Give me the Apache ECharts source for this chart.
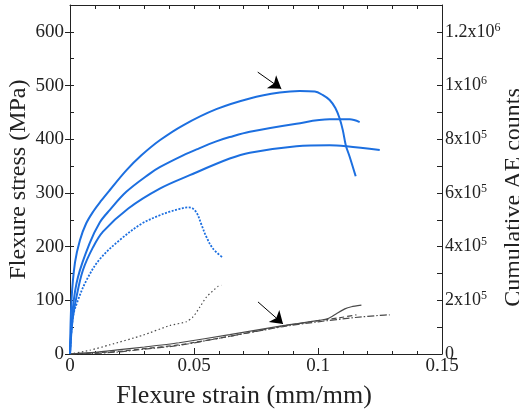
<!DOCTYPE html>
<html>
<head>
<meta charset="utf-8">
<script src="https://cdn.jsdelivr.net/npm/echarts@6/dist/echarts.min.js"></script>
<style>
  html, body { margin: 0; padding: 0; background: #fff; }
  #chart { width: 519px; height: 414px; }
</style>
</head>
<body>
<div id="chart"></div>
<script>
// Flexure stress-strain curves (MPa) for four specimens: [strain, stress]
const stressA = [[0,0],[0.0006,100],[0.002,170],[0.004,212],[0.0065,243],[0.0093,265],[0.0125,285],[0.016,305],[0.0227,342],[0.0288,370],[0.0362,398],[0.0456,426],[0.059,456],[0.0725,476],[0.0846,487],[0.0926,490],[0.0987,489],[0.102,482],[0.1047,473],[0.107,458],[0.1087,439],[0.110,417],[0.1112,389],[0.1128,367],[0.1152,331]];
const stressB = [[0,0],[0.0012,87],[0.0032,143],[0.0079,206],[0.012,245],[0.016,268],[0.0227,302],[0.0322,336],[0.0362,348],[0.0456,370],[0.051,381],[0.059,396],[0.0644,404],[0.0725,414],[0.0913,429],[0.1047,437],[0.1128,437],[0.1168,432]];
const stressC = [[0,0],[0.001,62],[0.0026,106],[0.0052,156],[0.0093,199],[0.0133,228],[0.0235,271],[0.0362,308],[0.0483,333],[0.0644,364],[0.0725,375],[0.0913,387],[0.1047,389],[0.1115,387],[0.1249,380]];
const stressD = [[0,0],[0.0012,69],[0.0032,100],[0.0066,137],[0.0119,176],[0.020,212],[0.029,243],[0.036,258],[0.0402,265],[0.044,270],[0.0476,273],[0.0495,271],[0.0512,262],[0.053,241],[0.055,218],[0.0577,196],[0.0615,180]];

// Cumulative acoustic-emission counts: [strain, counts]
const aeSolid = [[0,0],[0.01,6000],[0.02,16000],[0.03,26000],[0.044,42000],[0.0644,72000],[0.0859,106000],[0.1,124000],[0.104,132000],[0.1074,150000],[0.1108,168000],[0.1135,176000],[0.1175,182000]];
const aeDashed = [[0,0],[0.01,4000],[0.02,10000],[0.03,20000],[0.044,34000],[0.0644,66000],[0.0859,104000],[0.1,124000],[0.108,134000],[0.1155,146000]];
const aeDashDot = [[0,0],[0.01,2000],[0.02,8000],[0.03,18000],[0.044,32000],[0.0644,66000],[0.0859,102000],[0.1,120000],[0.115,136000],[0.125,144000],[0.1289,146000]];
const aeDotted = [[0,0],[0.008,14000],[0.016,34000],[0.0294,70000],[0.0402,106000],[0.0469,120000],[0.0496,138000],[0.0523,174000],[0.055,212000],[0.0597,252000],[0.061,256000]];

// Annotation arrows: [tail, head] in strain / stress units
const arrowUpper = [[0.0757, 525], [0.0852, 494]];
const arrowLower = [[0.0758, 97], [0.0859, 56]];

const FONT = 'Liberation Serif';
const BLUE = '#1c6fe0';
const GRAY = '#4a4a4a';
const INK = '#222';

const chart = echarts.init(document.getElementById('chart'), null, { renderer: 'canvas' });

function blueLine(data, type, width) {
  return {
    type: 'line', xAxisIndex: 0, yAxisIndex: 0, data: data,
    showSymbol: false, smooth: 0.35,
    lineStyle: { color: BLUE, width: width, type: type },
    z: 3
  };
}
function grayLine(data, type) {
  return {
    type: 'line', xAxisIndex: 0, yAxisIndex: 2, data: data,
    showSymbol: false, smooth: 0.2,
    lineStyle: { color: GRAY, width: 1.2, type: type },
    z: 2
  };
}

function supLabel(v) {
  if (v === 0) return '{b|0}';
  const k = Math.round(v / 1e5);
  if (k % 2) return '';
  const e = Math.floor(Math.log10(v) + 1e-9);
  const m = +(v / Math.pow(10, e)).toFixed(2);
  return '{b|' + m + 'x10}{s|' + e + '}';
}

const option = {
  animation: false,
  backgroundColor: '#fff',
  textStyle: { fontFamily: FONT },
  grid: { left: 70, right: 77, top: 5, bottom: 60, containLabel: false, outerBoundsMode: 'none' },
  xAxis: [
    {
      type: 'value', position: 'bottom', min: 0, max: 0.15, interval: 0.05,
      name: 'Flexure strain (mm/mm)', nameLocation: 'middle', nameGap: 29,
      nameTextStyle: { fontFamily: FONT, fontSize: 26, color: INK, padding: [0, 24, 0, 0] },
      axisLine: { show: true, onZero: false, lineStyle: { color: INK, width: 1 } },
      axisTick: { show: true, inside: true, length: 6, lineStyle: { color: INK } },
      minorTick: { show: true, splitNumber: 5, length: 3, lineStyle: { color: INK } },
      axisLabel: { fontFamily: FONT, fontSize: 19, color: INK, margin: 3 },
      splitLine: { show: false }, minorSplitLine: { show: false }
    },
    {
      type: 'value', position: 'top', min: 0, max: 0.15, interval: 0.05,
      axisLine: { show: true, onZero: false, lineStyle: { color: INK, width: 1 } },
      axisTick: { show: true, inside: true, length: 4, lineStyle: { color: INK } },
      minorTick: { show: true, splitNumber: 5, length: 4, lineStyle: { color: INK } },
      axisLabel: { show: false },
      splitLine: { show: false }
    }
  ],
  yAxis: [
    {
      type: 'value', position: 'left', min: 0, max: 650, interval: 100,
      name: 'Flexure stress (MPa)', nameLocation: 'middle', nameGap: 39, nameRotate: 90,
      nameMoveOverlap: false,
      nameTextStyle: { fontFamily: FONT, fontSize: 24, color: INK },
      axisLine: { show: true, onZero: false, lineStyle: { color: INK, width: 1 } },
      axisTick: { show: true, inside: false, length: 5, lineStyle: { color: INK } },
      axisLabel: { fontFamily: FONT, fontSize: 19, color: INK, margin: 6, showMaxLabel: false },
      splitLine: { show: false }
    },
    {
      // half-step ticks along the left edge, pointing into the plot
      type: 'value', position: 'left', min: 0, max: 650, interval: 50,
      axisLine: { show: false },
      axisTick: { show: true, inside: true, length: 4, lineStyle: { color: INK } },
      axisLabel: { show: false },
      splitLine: { show: false }
    },
    {
      type: 'value', position: 'right', min: 0, max: 1300000, interval: 100000,
      name: 'Cumulative AE counts', nameLocation: 'middle', nameGap: 60, nameRotate: 90,
      nameMoveOverlap: false,
      nameTextStyle: { fontFamily: FONT, fontSize: 24, color: INK, padding: [0, 36, 0, 0] },
      axisLine: { show: true, onZero: false, lineStyle: { color: INK, width: 1 } },
      axisTick: { show: true, inside: true, length: 5, lineStyle: { color: INK } },
      axisLabel: {
        fontFamily: FONT, color: INK, margin: 3, showMaxLabel: false,
        formatter: supLabel,
        rich: {
          b: { fontFamily: FONT, fontSize: 18, color: INK },
          s: { fontFamily: FONT, fontSize: 12, color: INK, padding: [0, 0, 9, 0] }
        }
      },
      splitLine: { show: false }
    }
  ],
  series: [
    Object.assign(blueLine(stressA, 'solid', 2), {
      markLine: {
        silent: true, symbol: ['none', 'arrow'], symbolSize: 12,
        label: { show: false },
        lineStyle: { color: '#000', width: 1, type: 'solid' },
        data: [
          [{ coord: arrowUpper[0] }, { coord: arrowUpper[1] }],
          [{ coord: arrowLower[0] }, { coord: arrowLower[1] }]
        ]
      }
    }),
    blueLine(stressB, 'solid', 2),
    blueLine(stressC, 'solid', 2),
    blueLine(stressD, [2, 1.5], 1.8),
    grayLine(aeSolid, 'solid'),
    grayLine(aeDashed, [5, 3]),
    grayLine(aeDashDot, [7, 2, 1.5, 2]),
    grayLine(aeDotted, [1.5, 2.5])
  ]
};

chart.setOption(option);
</script>
</body>
</html>
